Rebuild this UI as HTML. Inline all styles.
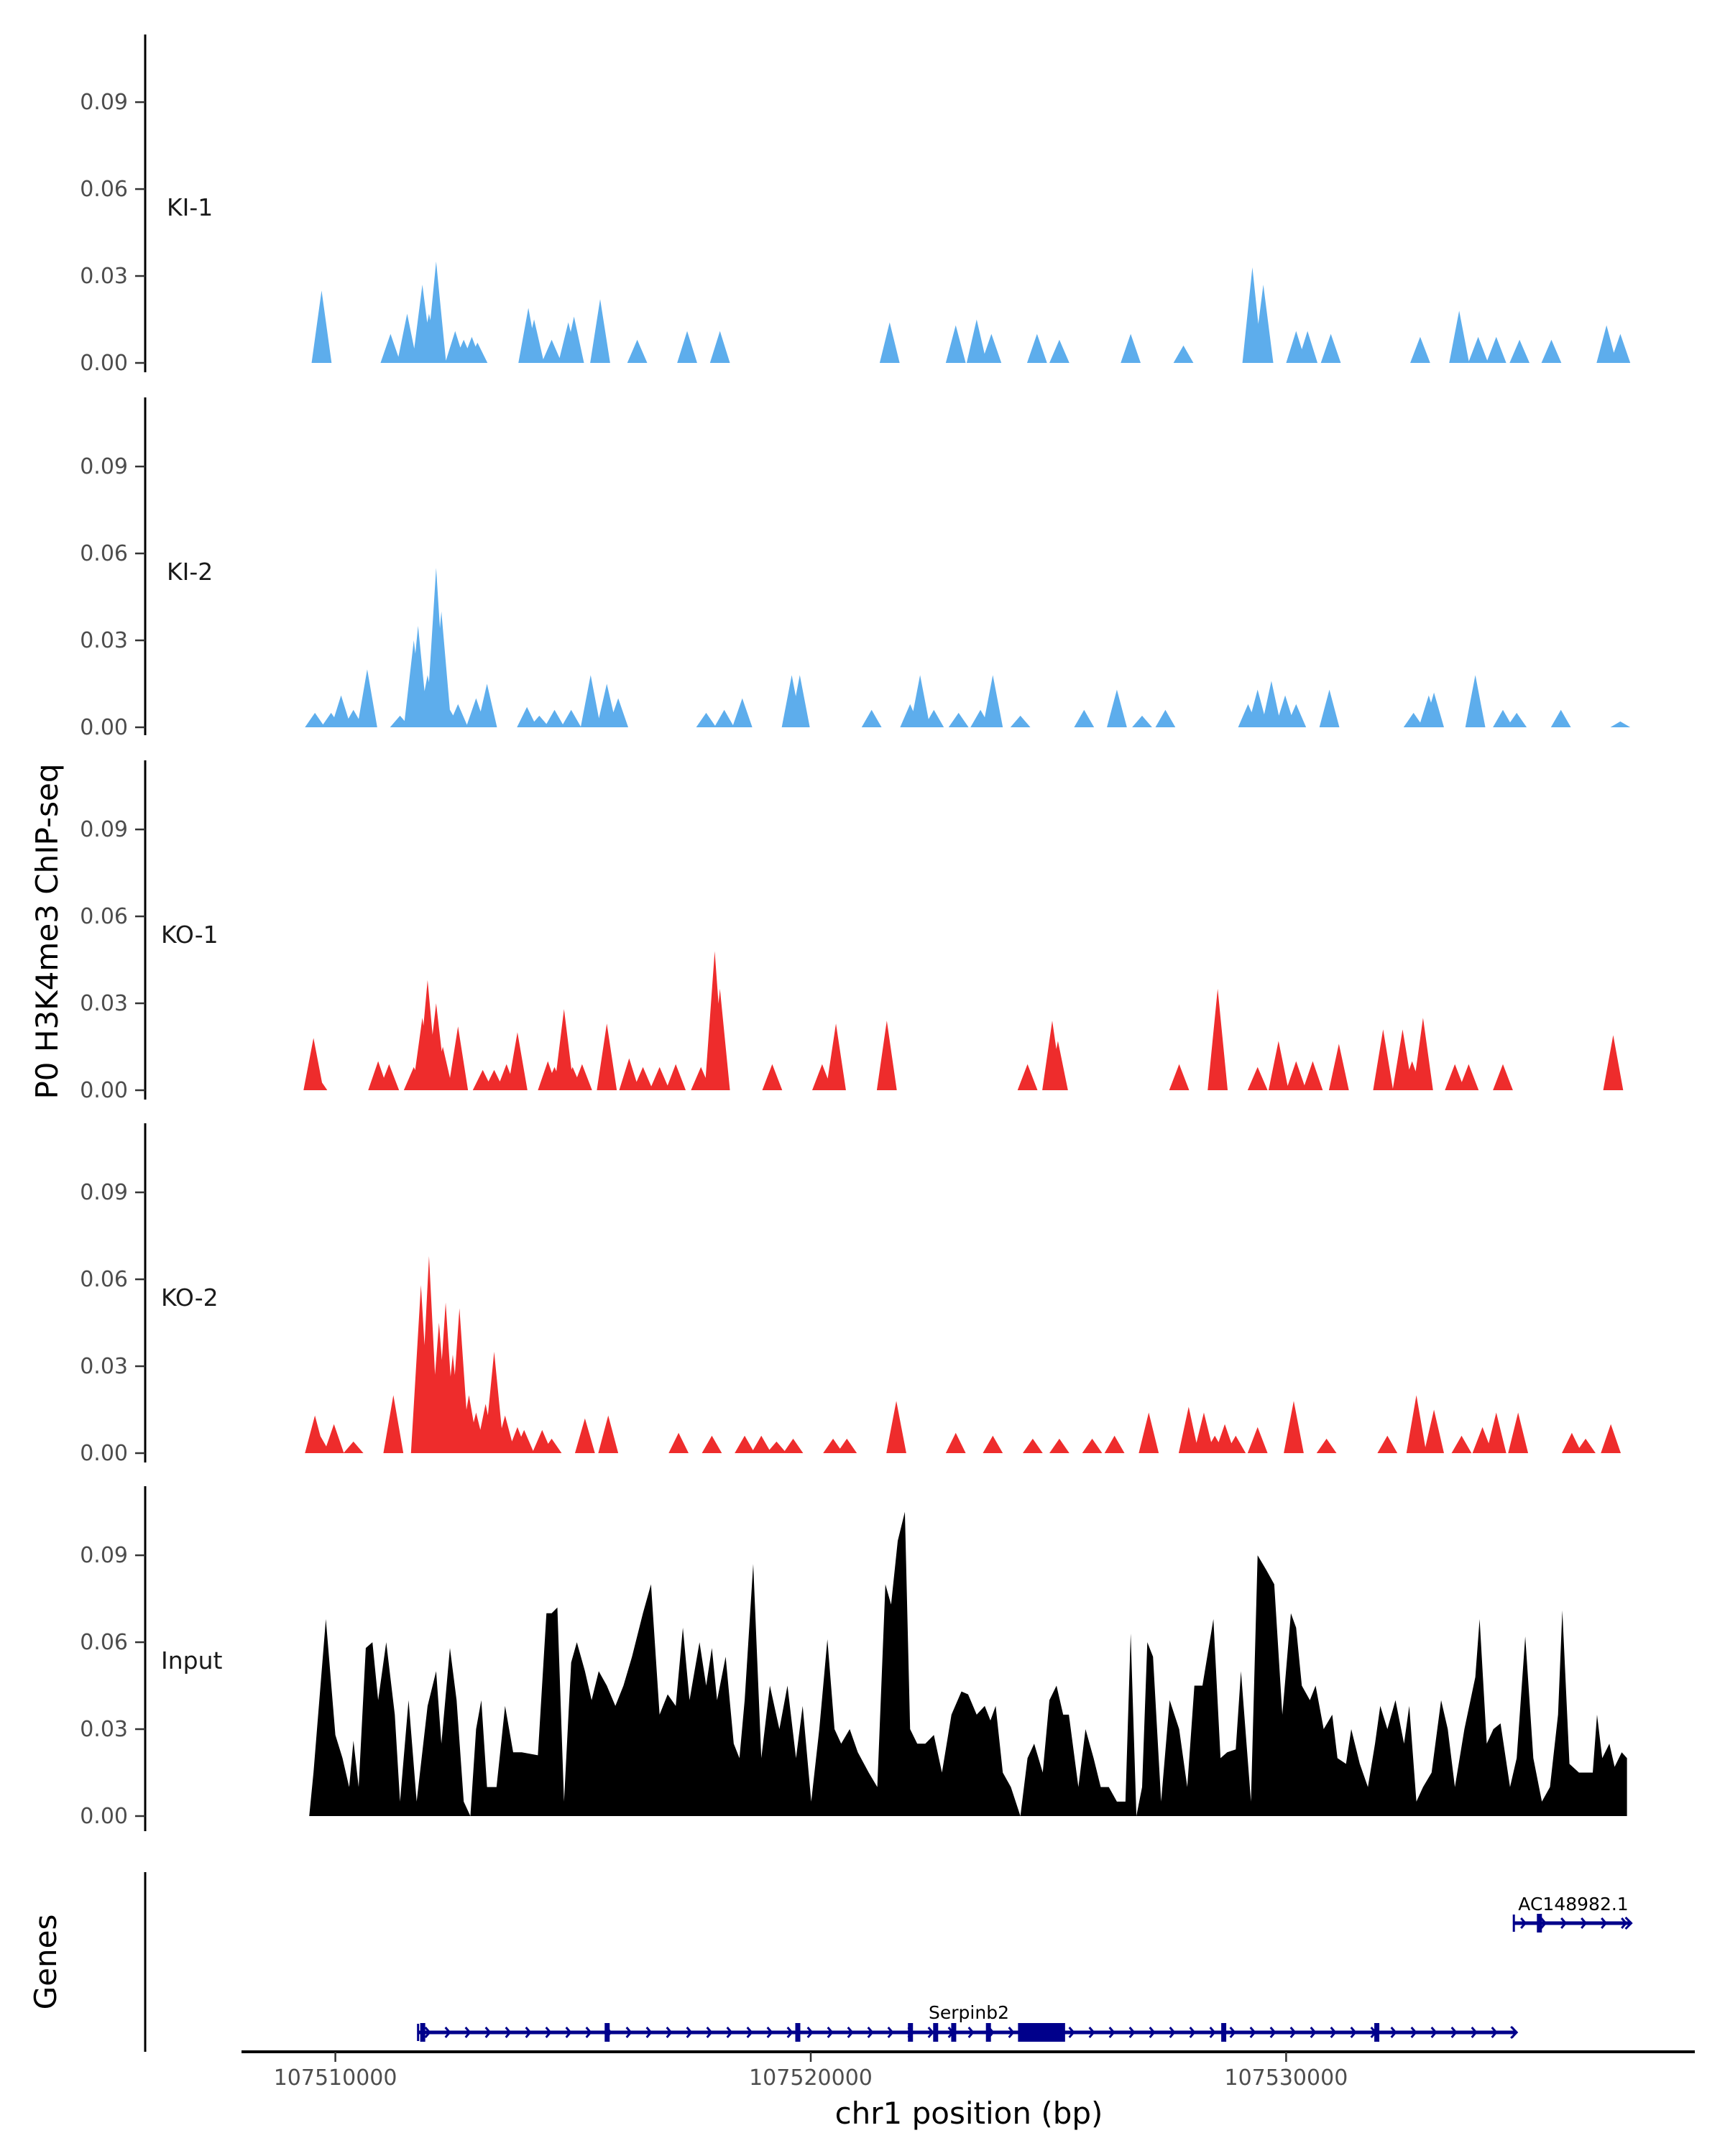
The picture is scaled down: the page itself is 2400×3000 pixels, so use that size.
<!DOCTYPE html>
<html><head><meta charset="utf-8"><style>
html,body{margin:0;padding:0;background:#fff}
svg{display:block}
text{font-family:"DejaVu Sans","Liberation Sans",sans-serif}
</style></head><body>
<svg id="chart" width="2400" height="3000" viewBox="0 0 2400 3000" xmlns="http://www.w3.org/2000/svg">
<text x="0" y="0" transform="translate(80,1296) rotate(-90)" text-anchor="middle" font-size="42" fill="#000">P0 H3K4me3 ChIP-seq</text>
<text x="0" y="0" transform="translate(78,2730) rotate(-90)" text-anchor="middle" font-size="42" fill="#000">Genes</text>
<text x="1348" y="2955" text-anchor="middle" font-size="42" fill="#000">chr1 position (bp)</text>
<g id="tracks"></g>
<g id="genes"></g>
<g id="xaxis"></g>
</svg>
<script>
// ---- data (positions in kb offset from 107500 kb) ----
const trackNames = ["KI-1","KI-2","KO-1","KO-2","Input"];
const yTicks = [0, 0.03, 0.06, 0.09];
const yTickLabels = ["0.00","0.03","0.06","0.09"];
const xTicks = [10, 20, 30];
const xTickLabels = ["107510000","107520000","107530000"];

const ki1Pos = [9.71,11.16,11.51,11.83,11.97,12.12,12.52,12.70,12.87,12.99,14.06,14.18,14.55,14.90,15.02,15.57,16.35,17.40,18.09,21.66,23.05,23.49,23.80,24.76,25.23,26.73,27.84,29.29,29.52,30.21,30.45,30.94,32.82,33.64,34.04,34.42,34.91,35.58,36.74,37.03];
const ki1Val = [0.025,0.010,0.017,0.027,0.017,0.035,0.011,0.008,0.009,0.007,0.019,0.015,0.008,0.014,0.016,0.022,0.008,0.011,0.011,0.014,0.013,0.015,0.010,0.010,0.008,0.010,0.006,0.033,0.027,0.011,0.011,0.010,0.009,0.018,0.009,0.009,0.008,0.008,0.013,0.010];

const ki2Pos = [9.57,9.91,10.12,10.38,10.67,11.36,11.65,11.74,11.94,12.12,12.23,12.41,12.58,12.96,13.19,14.03,14.29,14.61,14.96,15.37,15.71,15.95,17.80,18.18,18.56,19.60,19.77,21.28,22.09,22.30,22.59,23.11,23.57,23.83,24.41,25.75,26.44,26.97,27.46,29.20,29.40,29.69,29.98,30.21,30.91,32.68,33.00,33.11,33.98,34.56,34.85,35.78,37.03];
const ki2Val = [0.005,0.005,0.011,0.006,0.020,0.004,0.030,0.035,0.018,0.055,0.040,0.006,0.008,0.010,0.015,0.007,0.004,0.006,0.006,0.018,0.015,0.010,0.005,0.006,0.010,0.018,0.018,0.006,0.008,0.018,0.006,0.005,0.006,0.018,0.004,0.006,0.013,0.004,0.006,0.008,0.013,0.016,0.011,0.008,0.013,0.005,0.011,0.012,0.018,0.006,0.005,0.006,0.002];

const ko1Pos = [9.54,9.62,10.90,11.13,11.65,11.83,11.94,12.12,12.26,12.58,13.10,13.34,13.60,13.83,14.47,14.61,14.81,14.99,15.19,15.71,16.18,16.47,16.82,17.16,17.69,17.98,18.09,19.19,20.24,20.53,21.60,24.56,25.08,25.20,27.75,28.56,29.40,29.84,30.21,30.56,31.11,32.04,32.45,32.65,32.88,33.55,33.84,34.56,36.88];
const ko1Val = [0.018,0.005,0.010,0.009,0.008,0.025,0.038,0.030,0.015,0.022,0.007,0.007,0.009,0.020,0.010,0.008,0.028,0.008,0.009,0.023,0.011,0.008,0.008,0.009,0.008,0.048,0.035,0.009,0.009,0.023,0.024,0.009,0.024,0.017,0.009,0.035,0.008,0.017,0.010,0.010,0.016,0.021,0.021,0.010,0.025,0.009,0.009,0.009,0.019];

const ko2Pos = [9.57,9.68,9.97,10.38,11.22,11.80,11.97,12.18,12.32,12.47,12.61,12.81,12.96,13.16,13.34,13.57,13.83,13.97,14.35,14.55,15.25,15.74,17.22,17.92,18.61,18.96,19.28,19.63,20.47,20.76,21.80,23.05,23.83,24.67,25.23,25.92,26.39,27.11,27.95,28.27,28.50,28.71,28.94,29.40,30.16,30.85,32.13,32.74,33.11,33.69,34.13,34.42,34.88,36.01,36.30,36.83];
const ko2Val = [0.013,0.006,0.010,0.004,0.020,0.058,0.068,0.045,0.052,0.034,0.050,0.020,0.014,0.017,0.035,0.013,0.009,0.008,0.008,0.005,0.012,0.013,0.007,0.006,0.006,0.006,0.004,0.005,0.005,0.005,0.018,0.007,0.006,0.005,0.005,0.005,0.006,0.014,0.016,0.014,0.006,0.010,0.006,0.009,0.018,0.005,0.006,0.020,0.015,0.006,0.009,0.014,0.014,0.007,0.005,0.010];

const inputPos = [9.45,9.54,9.80,10.00,10.15,10.29,10.38,10.49,10.64,10.78,10.90,11.07,11.25,11.36,11.54,11.71,11.94,12.12,12.23,12.41,12.55,12.70,12.84,12.96,13.07,13.19,13.39,13.57,13.74,13.92,14.26,14.44,14.55,14.67,14.81,14.96,15.08,15.25,15.39,15.54,15.71,15.89,16.06,16.24,16.47,16.64,16.82,16.99,17.16,17.31,17.45,17.66,17.80,17.92,18.03,18.21,18.38,18.50,18.61,18.79,18.96,19.14,19.34,19.51,19.69,19.83,20.01,20.18,20.35,20.50,20.64,20.82,20.99,21.22,21.40,21.57,21.69,21.83,21.98,22.09,22.24,22.41,22.59,22.76,22.96,23.17,23.31,23.49,23.66,23.78,23.89,24.04,24.21,24.41,24.56,24.70,24.88,25.02,25.17,25.31,25.43,25.63,25.78,25.95,26.10,26.27,26.44,26.62,26.73,26.85,26.97,27.08,27.20,27.37,27.55,27.75,27.92,28.07,28.24,28.47,28.62,28.76,28.94,29.05,29.26,29.40,29.58,29.75,29.92,30.10,30.21,30.33,30.50,30.62,30.79,30.97,31.08,31.26,31.37,31.55,31.72,31.87,31.98,32.13,32.30,32.48,32.59,32.74,32.88,33.06,33.26,33.40,33.55,33.75,33.98,34.07,34.22,34.36,34.51,34.71,34.85,35.03,35.20,35.38,35.55,35.72,35.81,35.96,36.16,36.45,36.54,36.65,36.80,36.91,37.06,37.17,37.17];
const inputVal = [0,0.015,0.068,0.028,0.020,0.010,0.026,0.010,0.058,0.060,0.040,0.060,0.035,0.005,0.040,0.005,0.038,0.050,0.025,0.058,0.040,0.005,0,0.030,0.040,0.010,0.010,0.038,0.022,0.022,0.021,0.070,0.070,0.072,0.005,0.053,0.060,0.050,0.040,0.050,0.045,0.038,0.045,0.055,0.070,0.080,0.035,0.042,0.038,0.065,0.040,0.060,0.045,0.058,0.040,0.055,0.025,0.020,0.040,0.087,0.020,0.045,0.030,0.045,0.020,0.038,0.005,0.030,0.061,0.030,0.025,0.030,0.022,0.015,0.010,0.080,0.073,0.095,0.105,0.030,0.025,0.025,0.028,0.015,0.035,0.043,0.042,0.035,0.038,0.033,0.038,0.015,0.010,0,0.020,0.025,0.015,0.040,0.045,0.035,0.035,0.010,0.030,0.020,0.010,0.010,0.005,0.005,0.063,0,0.010,0.060,0.055,0.005,0.040,0.030,0.010,0.045,0.045,0.068,0.020,0.022,0.023,0.050,0.005,0.090,0.085,0.080,0.035,0.070,0.065,0.045,0.040,0.045,0.030,0.035,0.020,0.018,0.030,0.018,0.010,0.025,0.038,0.030,0.040,0.025,0.038,0.005,0.010,0.015,0.040,0.030,0.010,0.030,0.048,0.068,0.025,0.030,0.032,0.010,0.020,0.062,0.020,0.005,0.010,0.035,0.071,0.018,0.015,0.015,0.035,0.020,0.025,0.017,0.022,0.020,0];

const serpExons = [11.83,15.71,19.72,22.09,22.62,23.00,23.73,28.68,31.90];
const serpBigExon = [24.36,25.35];
const serpSpan = [11.74,34.85];
const acSpan = [34.79,37.26];
const acExons = [35.32];

// ---- layout ----
const NS = "http://www.w3.org/2000/svg";
const baselines = [505,1012,1517,2022,2527];
const axisSegs = [[48,518],[553,1023],[1058,1530],[1563,2035],[2068,2548]];
const colors = ["#5DADEC","#5DADEC","#EE2C2C","#EE2C2C","#000000"];
const peakHalf = 0.21;
function xs(kb){ return 466.6 + (kb-10)*66.14; }
function ys(i,v){ return baselines[i] - v*4032; }
function mk(tag, attrs, parent){ const e=document.createElementNS(NS,tag); for(const k in attrs) e.setAttribute(k,attrs[k]); parent.appendChild(e); return e; }

const tracks = document.getElementById('tracks');
const peakData = [[ki1Pos,ki1Val],[ki2Pos,ki2Val],[ko1Pos,ko1Val],[ko2Pos,ko2Val]];
for(let i=0;i<5;i++){
  const g = mk('g',{},tracks);
  
  
  const ax = mk('line',{x1:202,x2:202,y1:axisSegs[i][0],y2:axisSegs[i][1],stroke:'#000','stroke-width':3},g);
  
  
  yTicks.forEach((t,j)=>{
    const y = ys(i,t);
    const tk = mk('line',{x1:188,x2:202,y1:y,y2:y,stroke:'#333','stroke-width':2.5},g);
    
    
    const tl = mk('text',{x:178,y:y+10,'text-anchor':'end','font-size':30,fill:'#4d4d4d'},g);
    tl.textContent = yTickLabels[j];
    
    
  });
  const lab = mk('text',{x: i<2?232:224, y: baselines[i]-205,'font-size':33,fill:'#1a1a1a'},g);
  lab.textContent = trackNames[i];
  
  
  let d = '';
  if(i<4){
    const [P,V] = peakData[i];
    P.forEach((p,k)=>{
      d += `M${xs(p-peakHalf)},${baselines[i]}L${xs(p)},${ys(i,V[k])}L${xs(p+peakHalf)},${baselines[i]}Z`;
    });
  } else {
    d = `M${xs(inputPos[0])},${baselines[i]}`;
    inputPos.forEach((p,k)=>{ d += `L${xs(p)},${ys(i,inputVal[k])}`; });
    d += `L${xs(inputPos[inputPos.length-1])},${baselines[i]}Z`;
  }
  const area = mk('path',{d:d,fill:colors[i]},g);
  
  
}

// genes
const genes = document.getElementById('genes');
const ga = mk('line',{x1:202,x2:202,y1:2605,y2:2855,stroke:'#000','stroke-width':3},genes);


const navy = '#00008B';
function drawGene(name, span, exons, big, y, labelX, labelY){
  const g = mk('g',{},genes);
  
  
  mk('line',{x1:xs(span[0]),x2:xs(span[1]),y1:y,y2:y,stroke:navy,'stroke-width':5},g);
  for(let x=xs(span[0])+10; x<xs(span[1]); x+=28){
    mk('path',{d:`M${x},${y-7}L${x+6},${y}L${x},${y+7}`,stroke:navy,'stroke-width':3,fill:'none'},g);
  }
  mk('path',{d:`M${xs(span[1])-8},${y-8}L${xs(span[1])},${y}L${xs(span[1])-8},${y+8}`,stroke:navy,'stroke-width':3,fill:'none'},g);
  exons.forEach(e=>{ mk('rect',{x:xs(e)-3,y:y-13,width:7,height:26,fill:navy},g); });
  if(big) mk('rect',{x:xs(big[0]),y:y-13,width:xs(big[1])-xs(big[0]),height:26,fill:navy},g);
  mk('line',{x1:xs(span[0]),x2:xs(span[0]),y1:y-12,y2:y+12,stroke:navy,'stroke-width':3},g);
  const t = mk('text',{x:labelX,y:labelY,'text-anchor':'middle','font-size':25,fill:'#000'},g);
  t.textContent = name;
  
  
}
drawGene('Serpinb2', serpSpan, serpExons, serpBigExon, 2828, 1348, 2809);
drawGene('AC148982.1', acSpan, acExons, null, 2676, 2189, 2658);

// x axis
const xa = document.getElementById('xaxis');
const xl = mk('line',{x1:336,x2:2358,y1:2855,y2:2855,stroke:'#000','stroke-width':4},xa);


xTicks.forEach((t,j)=>{
  const x = xs(t);
  const tk = mk('line',{x1:x,x2:x,y1:2855,y2:2869,stroke:'#333','stroke-width':2.5},xa);
  
  
  const tl = mk('text',{x:x,y:2901,'text-anchor':'middle','font-size':30,fill:'#4d4d4d'},xa);
  tl.textContent = xTickLabels[j];
  
  
});
</script>
</body></html>
